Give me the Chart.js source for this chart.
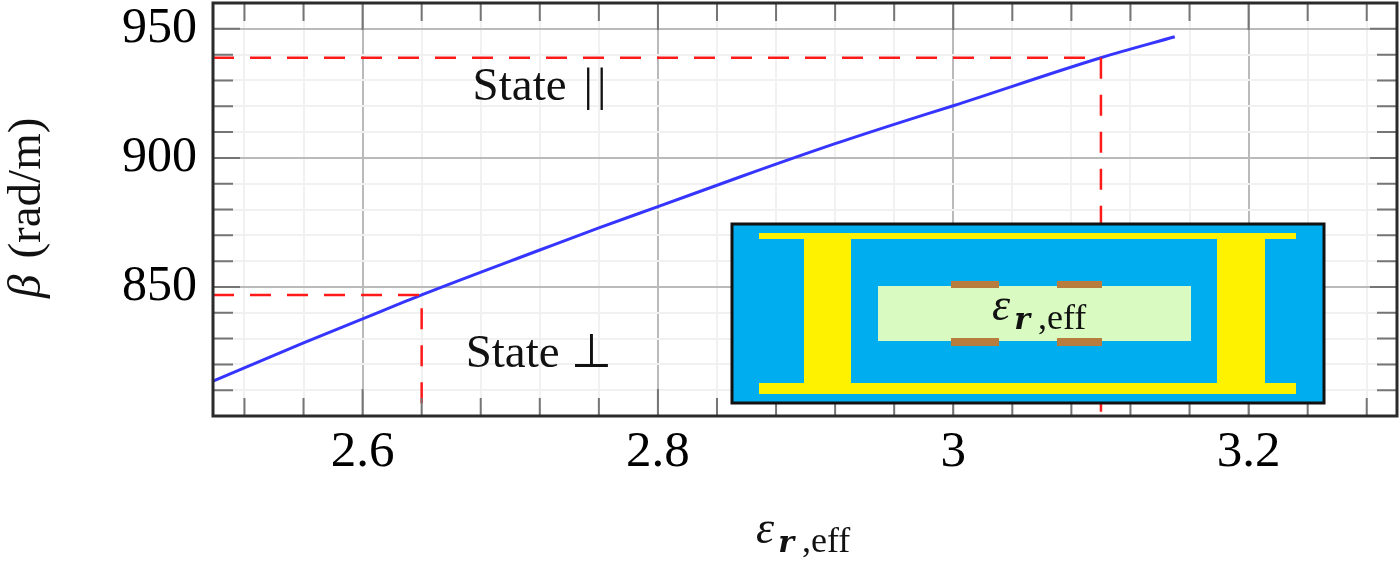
<!DOCTYPE html>
<html>
<head>
<meta charset="utf-8">
<script src="https://cdn.jsdelivr.net/npm/chart.js@4/dist/chart.umd.min.js"></script>
<style>
  html, body { margin: 0; padding: 0; background: #fff; }
  #wrap { width: 1400px; height: 561px; }
  canvas { filter: blur(0.5px); }
</style>
</head>
<body>
<div id="wrap"><canvas id="betaChart" width="1400" height="561"></canvas></div>
<script>
const xLimits = [2.4987, 3.3005];
const yLimits = [800, 960];
const xTicks = [2.52, 2.56, 2.6, 2.64, 2.68, 2.72, 2.76, 2.8, 2.84, 2.88, 2.92, 2.96, 3, 3.04, 3.08, 3.12, 3.16, 3.2, 3.24, 3.28];
const xMajor = [2.6, 2.8, 3, 3.2];
const yTicks = [810, 820, 830, 840, 850, 860, 870, 880, 890, 900, 910, 920, 930, 940, 950];
const yMajor = [850, 900, 950];

const curveX = [2.4987, 2.56, 2.6, 2.64, 2.72, 2.76, 2.8, 2.855, 2.92, 2.96, 3, 3.1, 3.15];
const curveY = [813.5, 828.3, 837.6, 846.9, 864.3, 872.9, 881.1, 892.5, 905.5, 913, 920.2, 938.8, 946.9];
const lowStateX = [2.4987, 2.64, 2.64];
const lowStateY = [846.9, 846.9, 800];
const highStateX = [2.4987, 3.1, 3.1];
const highStateY = [938.8, 938.8, 800];

const SERIF = '"Liberation Serif", serif';
const INK = '#111111';

function toPoints(xs, ys) {
    return xs.map((x, i) => ({ x: x, y: ys[i] }));
}

// draws a row of differently styled text pieces
function drawRuns(ctx, runs, x, y) {
    ctx.textAlign = 'left';
    ctx.textBaseline = 'alphabetic';
    runs.forEach(r => {
        ctx.font = r.font;
        ctx.fillStyle = r.color || INK;
        ctx.fillText(r.text, x, y + (r.dy || 0));
        x += ctx.measureText(r.text).width + (r.gap || 0);
    });
}

const epsRuns = [
    { text: 'ε', font: 'italic 46px ' + SERIF, gap: 4 },
    { text: 'r', font: 'italic bold 30px "DejaVu Serif", serif', dy: 9, gap: 8 },
    { text: ',eff', font: '36px ' + SERIF, dy: 9 }
];

const frameAndTicks = {
    id: 'frameAndTicks',
    afterDatasetsDraw(chart) {
        const { ctx, chartArea: a, scales: { x, y } } = chart;
        ctx.save();
        ctx.strokeStyle = '#757575';
        ctx.lineWidth = 2;
        ctx.beginPath();
        xTicks.forEach(v => {
            const px = x.getPixelForValue(v);
            const len = xMajor.includes(v) ? 27 : 18;
            ctx.moveTo(px, a.top); ctx.lineTo(px, a.top + len);
            ctx.moveTo(px, a.bottom); ctx.lineTo(px, a.bottom - len);
        });
        yTicks.forEach(v => {
            const py = y.getPixelForValue(v);
            const len = yMajor.includes(v) ? 27 : 20;
            ctx.moveTo(a.left, py); ctx.lineTo(a.left + len, py);
            ctx.moveTo(a.right, py); ctx.lineTo(a.right - len, py);
        });
        ctx.stroke();
        ctx.strokeStyle = '#2b2b2b';
        ctx.lineWidth = 3;
        ctx.strokeRect(a.left, a.top, a.right - a.left, a.bottom - a.top);
        ctx.restore();
    }
};

const annotations = {
    id: 'annotations',
    afterDraw(chart) {
        const { ctx, scales: { x, y } } = chart;
        ctx.save();
        // state labels
        drawRuns(ctx, [
            { text: 'State', font: '47px ' + SERIF, gap: 17 },
            { text: '|', font: '47px ' + SERIF, gap: 4 },
            { text: '|', font: '47px ' + SERIF }
        ], x.getPixelForValue(2.6745), y.getPixelForValue(922.5));
        drawRuns(ctx, [{ text: 'State ⊥', font: '47px ' + SERIF }], x.getPixelForValue(2.6698), y.getPixelForValue(819));

        // waveguide cross section inset
        const box = (c, l, t, r, b) => { ctx.fillStyle = c; ctx.fillRect(l, t, r - l, b - t); };
        box('#00aeef', 732, 224, 1324, 403);
        box('#fff200', 759, 233, 1296, 239);
        box('#fff200', 759, 383, 1296, 394);
        box('#fff200', 804, 233, 851, 394);
        box('#fff200', 1217, 233, 1265, 394);
        box('#d9fbc2', 878, 286, 1191, 341);
        box('#b87d3e', 951, 281, 999, 288);
        box('#b87d3e', 1057, 281, 1102, 288);
        box('#b87d3e', 951, 338, 999, 346);
        box('#b87d3e', 1057, 338, 1102, 346);
        ctx.strokeStyle = '#111';
        ctx.lineWidth = 3;
        ctx.strokeRect(732, 224, 592, 179);
        drawRuns(ctx, epsRuns, 992, 320);

        // axis titles
        drawRuns(ctx, epsRuns, 756, 543);
        ctx.translate(40, 298);
        ctx.rotate(-Math.PI / 2);
        drawRuns(ctx, [
            { text: 'β', font: 'italic 47px ' + SERIF, gap: 16 },
            { text: '(rad/m)', font: '47px ' + SERIF }
        ], 0, 0);
        ctx.restore();
    }
};

new Chart(document.getElementById('betaChart'), {
    type: 'scatter',
    data: {
        datasets: [
            {
                data: toPoints(lowStateX, lowStateY),
                showLine: true, borderColor: '#ff1a1a', borderWidth: 2.5, borderDash: [21, 16], pointRadius: 0
            },
            {
                data: toPoints(highStateX, highStateY),
                showLine: true, borderColor: '#ff1a1a', borderWidth: 2.5, borderDash: [21, 16], pointRadius: 0
            },
            {
                data: toPoints(curveX, curveY),
                showLine: true, borderColor: '#3535ff', borderWidth: 3, pointRadius: 0,
                cubicInterpolationMode: 'monotone'
            }
        ]
    },
    options: {
        responsive: false,
        animation: false,
        events: [],
        layout: { padding: { top: 3, right: 3, left: 0, bottom: 0 } },
        plugins: { legend: { display: false }, tooltip: { enabled: false } },
        scales: {
            x: {
                type: 'linear',
                min: xLimits[0],
                max: xLimits[1],
                afterBuildTicks: s => { s.ticks = xTicks.map(v => ({ value: v })); },
                afterFit: s => { s.height = 145; s.paddingLeft = 0; s.paddingRight = 0; },
                border: { display: false },
                grid: {
                    drawTicks: false,
                    color: c => xMajor.includes(c.tick.value) ? '#bababa' : '#f1f1f1',
                    lineWidth: 2
                },
                ticks: {
                    autoSkip: false,
                    maxRotation: 0,
                    padding: 6,
                    color: '#000',
                    font: { family: SERIF, size: 51 },
                    callback: v => xMajor.includes(v) ? String(v) : ''
                }
            },
            y: {
                min: yLimits[0],
                max: yLimits[1],
                afterBuildTicks: s => { s.ticks = yTicks.map(v => ({ value: v })); },
                afterFit: s => { s.width = 213; s.paddingTop = 0; s.paddingBottom = 0; },
                border: { display: false },
                grid: {
                    drawTicks: false,
                    color: c => yMajor.includes(c.tick.value) ? '#bababa' : '#f1f1f1',
                    lineWidth: 2
                },
                ticks: {
                    autoSkip: false,
                    padding: 16,
                    color: '#000',
                    font: { family: SERIF, size: 50 },
                    callback: v => yMajor.includes(v) ? String(v) : ''
                }
            }
        }
    },
    plugins: [frameAndTicks, annotations]
});
</script>
</body>
</html>
